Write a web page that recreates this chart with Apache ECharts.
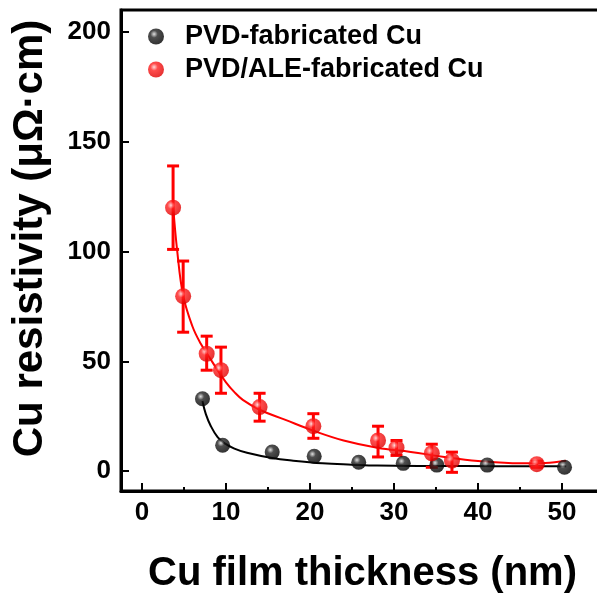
<!DOCTYPE html>
<html>
<head>
<meta charset="utf-8">
<script src="https://cdn.jsdelivr.net/npm/echarts@6/dist/echarts.min.js"></script>
<style>
  html, body { margin: 0; padding: 0; background: #fff; }
  #chart { width: 597px; height: 596px; }
</style>
</head>
<body>
<div id="chart"></div>
<script>
// measured points: [thickness nm, resistivity uOhm.cm]
const pvdPoints = [[7.2, 33], [9.6, 11.8], [15.5, 8.7], [20.5, 6.8], [25.8, 4.1], [31.1, 3.6], [35.1, 2.8], [41.1, 2.8], [50.3, 1.8]]
const aleThick = [3.7, 4.9, 7.7, 9.4, 14.0, 20.4, 28.1, 30.3, 34.5, 36.9, 47.0]
const aleValue = [120, 79.7, 53.5, 46, 29.2, 20.5, 14, 10.7, 8.2, 4.8, 3.2]
const aleLow   = [101, 63.3, 46, 35.5, 22.8, 15, 6.5, 7.2, 1.8, -0.5, 1.8]
const aleHigh  = [139, 95.7, 61.5, 56.5, 35.5, 26.2, 20.5, 14, 12.3, 8.7, 4.6]
// fitted curves
const pvdFit = [[7.2, 32], [7.6, 26], [8.2, 20.5], [9.0, 15.5], [9.8, 12.8], [11, 10.3], [12.5, 8.4], [15.5, 6], [18, 4.8], [21.5, 3.6], [25, 3], [28, 2.6], [35, 2.4], [42, 2.3], [50.5, 2.3]]
const aleFit = [[3.7, 121], [4.2, 100], [4.9, 80], [6, 66], [7, 58], [8, 52], [9, 46], [10, 40.5], [11, 36], [12, 32.5], [14, 28], [17, 23.5], [20.5, 18.3], [24, 14], [28, 10.7], [32, 8.8], [36, 6.5], [40, 4.7], [45, 3.6], [48, 3.8], [50.5, 4.8]]
const seriesNames = ['PVD-fabricated Cu', 'PVD/ALE-fabricated Cu']
const xTicks = [0, 10, 20, 30, 40, 50]
const yTicks = [0, 50, 100, 150, 200]

const FONT = '"Liberation Sans", Arial, sans-serif'
const X_MIN = -2.5, X_MAX = 55
const Y_MIN = -9, Y_MAX = 210

// plot area in px (the right edge runs off the canvas)
const LEFT = 121, RIGHT = -7, TOP = 10, BOTTOM = 105
const H = 596, PX_X = (597 - RIGHT - LEFT) / (X_MAX - X_MIN), PX_Y = (H - BOTTOM - TOP) / (Y_MAX - Y_MIN)

function ball (light, mid, dark) {
    return new echarts.graphic.RadialGradient(0.38, 0.35, 0.65, [
        { offset: 0, color: light },
        { offset: 0.35, color: mid },
        { offset: 1, color: dark }
    ])
}

const tickLine = { width: 2, color: '#000' }
const hidden = (gridIndex) => ({ type: 'value', gridIndex, show: false, min: 0, max: 1 })

const aleData = aleThick.map((x, i) => [x, aleValue[i]])
const errData = aleThick.map((x, i) => [x, aleLow[i], aleHigh[i]])

const ec = echarts.init(document.getElementById('chart'))
ec.setOption({
    backgroundColor: '#fff',
    animation: false,
    grid: [
        // main plot
        { left: LEFT, right: RIGHT, top: TOP, bottom: BOTTOM, outerBoundsMode: 'none',
          show: true, borderColor: '#000', borderWidth: 3 },
        // x tick grid: starts at x = 0 so ticks count from a round min
        { left: LEFT - X_MIN * PX_X, right: RIGHT, top: TOP, bottom: BOTTOM, outerBoundsMode: 'none' },
        // y tick grid: starts at y = 0
        { left: LEFT, right: RIGHT, top: TOP, bottom: BOTTOM - Y_MIN * PX_Y, outerBoundsMode: 'none' }
    ],
    legend: {
        orient: 'vertical',
        left: 143, top: 18,
        itemWidth: 16, itemHeight: 16, itemGap: 6,
        icon: 'circle',
        data: seriesNames,
        textStyle: { fontFamily: FONT, fontWeight: 'bold', fontSize: 27, color: '#000', padding: [0, 0, 0, 16] }
    },
    xAxis: [
        {
            type: 'value', gridIndex: 0,
            min: X_MIN, max: X_MAX,
            name: 'Cu film thickness (nm)',
            nameLocation: 'middle',
            nameGap: 63,
            nameTextStyle: { fontFamily: FONT, fontWeight: 'bold', fontSize: 40, color: '#000' },
            axisLine: { onZero: false, lineStyle: { color: '#000', width: 3 } },
            axisTick: { show: false },
            axisLabel: {
                margin: 9, fontFamily: FONT, fontWeight: 'bold', fontSize: 26, color: '#000',
                customValues: xTicks
            },
            splitLine: { show: false }
        },
        {
            type: 'value', gridIndex: 1,
            min: 0, max: X_MAX, interval: 10,
            axisLine: { show: false, onZero: false },
            axisTick: { show: true, inside: true, length: 8, lineStyle: tickLine },
            minorTick: { show: true, splitNumber: 2, length: 4, lineStyle: tickLine },
            axisLabel: { show: false },
            splitLine: { show: false }, minorSplitLine: { show: false }
        },
        hidden(2)
    ],
    yAxis: [
        {
            type: 'value', gridIndex: 0,
            min: Y_MIN, max: Y_MAX,
            name: 'Cu resistivity (μΩ·cm)',
            nameLocation: 'middle',
            nameRotate: 90,
            nameGap: 70,
            nameTextStyle: { fontFamily: FONT, fontWeight: 'bold', fontSize: 42, color: '#000', padding: [0, 0, 0, 24] },
            axisLine: { onZero: false, lineStyle: { color: '#000', width: 3 } },
            axisTick: { show: false },
            axisLabel: {
                margin: 10, fontFamily: FONT, fontWeight: 'bold', fontSize: 26, color: '#000',
                customValues: yTicks
            },
            splitLine: { show: false }
        },
        hidden(1),
        {
            type: 'value', gridIndex: 2,
            min: 0, max: Y_MAX, interval: 50,
            axisLine: { show: false, onZero: false },
            axisTick: { show: true, inside: true, length: 8, lineStyle: tickLine },
            axisLabel: { show: false },
            splitLine: { show: false }
        }
    ],
    series: [
        {
            name: 'pvd-fit', type: 'line', data: pvdFit, smooth: 0.4,
            showSymbol: false, symbol: 'none',
            lineStyle: { color: '#000', width: 2 }, z: 2, silent: true
        },
        {
            name: 'ale-fit', type: 'line', data: aleFit, smooth: 0.4,
            showSymbol: false, symbol: 'none',
            lineStyle: { color: '#ff0000', width: 2 }, z: 2, silent: true
        },
        {
            name: 'ale-err', type: 'custom', data: errData, z: 3,
            encode: { x: 0, y: [1, 2] },
            renderItem (params, api) {
                const x = api.value(0)
                const lo = api.coord([x, api.value(1)])
                const hi = api.coord([x, api.value(2)])
                const w = 6
                const style = { stroke: '#ff0000', lineWidth: 3 }
                return {
                    type: 'group',
                    children: [
                        { type: 'line', shape: { x1: lo[0], y1: lo[1], x2: hi[0], y2: hi[1] }, style },
                        { type: 'line', shape: { x1: hi[0] - w, y1: hi[1], x2: hi[0] + w, y2: hi[1] }, style },
                        { type: 'line', shape: { x1: lo[0] - w, y1: lo[1], x2: lo[0] + w, y2: lo[1] }, style }
                    ]
                }
            }
        },
        {
            name: seriesNames[0], type: 'scatter', data: pvdPoints, symbolSize: 15, z: 4,
            itemStyle: { color: ball('#d8d8d8', '#222', '#000') }
        },
        {
            name: seriesNames[1], type: 'scatter', data: aleData, symbolSize: 16, z: 5,
            itemStyle: { color: ball('#ffd0d0', '#ff2020', '#e00000') }
        }
    ]
})
</script>
</body>
</html>
